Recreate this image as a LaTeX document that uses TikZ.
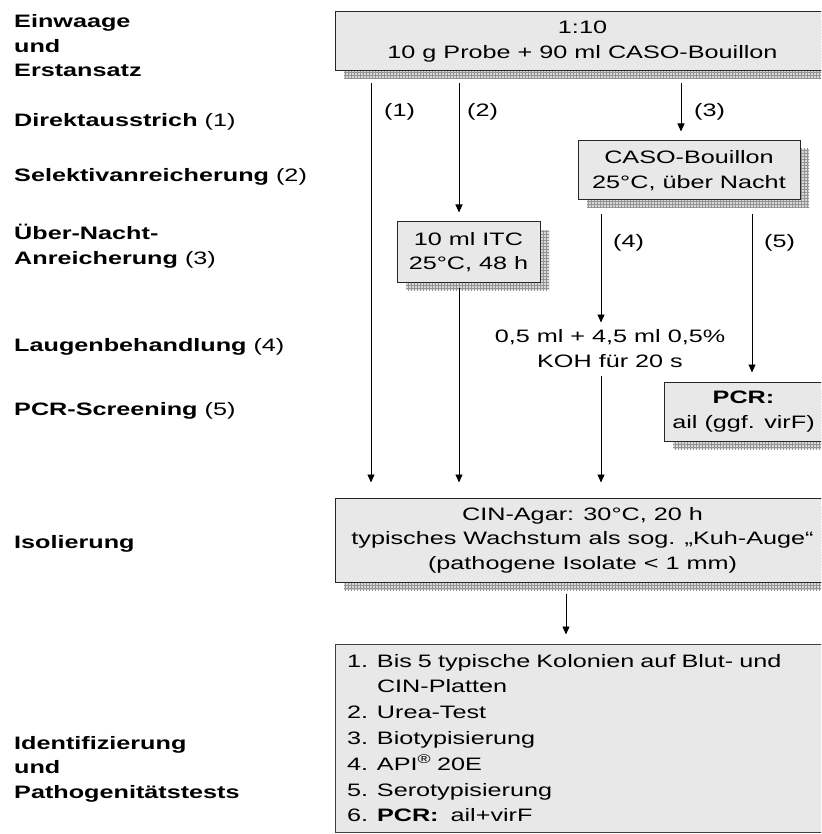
\documentclass[tikz,border=0pt]{standalone}
\usepackage{fontspec}
\setmainfont{Liberation Sans}[FakeStretch=1.40]
\usetikzlibrary{positioning,arrows.meta,shadows,patterns}
\definecolor{boxgray}{RGB}{232,232,232}
\tikzset{
  bx/.style={rectangle, draw=black!85, line width=1pt, fill=boxgray, align=center, inner sep=0pt,
    general shadow={shadow xshift=9pt, shadow yshift=-8pt, fill=gray!30},
    general shadow={shadow xshift=9pt, shadow yshift=-8pt, pattern=grid, pattern color=gray!85}},
  bxflat/.style={rectangle, draw=black!75, line width=1pt, fill=boxgray, align=left, inner xsep=12pt, inner ysep=0pt},
  lbl/.style={anchor=base west, inner sep=0pt, align=left, font=\fontsize{18}{24.5}\selectfont\bfseries},
  num/.style={anchor=base west, inner sep=0pt},
  fl/.style={->, line width=0.9pt, shorten <=12pt, shorten >=9pt},
  >={Triangle[width=7pt,length=8pt]}
}

\begin{document}
\begin{tikzpicture}[x=1pt, y=-1pt, font=\fontsize{18}{24.5}\selectfont]
	\fill[white] (0,0) rectangle (821,834);
	\useasboundingbox (0,0) rectangle (821,834);
	\clip (0,0) rectangle (821,834);
	% left column
	\node[lbl] (einw) at (14,77) {Einwaage\\und\\Erstansatz};
	\node[lbl] (direkt) at (14,127) {Direktausstrich {\mdseries (1)}};
	\node[lbl] (selekt) at (14,182) {Selektivanreicherung {\mdseries (2)}};
	\node[lbl] (uebern) at (14,264) {Über-Nacht-\\Anreicherung {\mdseries (3)}};
	\node[lbl] (lauge) at (14,351) {Laugenbehandlung {\mdseries (4)}};
	\node[lbl] (screen) at (14,415) {PCR-Screening {\mdseries (5)}};
	\node[lbl] (isol) at (14,548) {Isolierung};
	\node[lbl] (identlbl) at (14,798) {Identifizierung\\und\\Pathogenitätstests};
	% boxes
	\node[bx, minimum width=495pt, minimum height=59pt] (start) at (582.5,41.5) {1:10\\10 g Probe + 90 ml CASO-Bouillon};
	\node[bx, minimum width=222pt, minimum height=59pt] (caso) at (689,170.5) {CASO-Bouillon\\25°C, über Nacht};
	\node[bx, minimum width=143pt, minimum height=60pt] (itc) at (468.5,252) {10 ml ITC\\25°C, 48 h};
	\node[inner sep=0pt, align=center, anchor=north] (koh) at (610,329.5) {0,5 ml + 4,5 ml 0,5\%\\KOH für 20 s};
	\node[bx, minimum width=159pt, minimum height=59pt] (pcr) at (743.5,411.5) {\textbf{PCR:}\\ail (ggf. virF)};
	\node[bx, minimum width=495pt, minimum height=84pt] (cin) at (582.5,540) {CIN-Agar: 30°C, 20 h\\typisches Wachstum als sog. „Kuh-Auge“\\(pathogene Isolate < 1 mm)};
	\node[bxflat, text width=471pt, minimum height=188pt, font=\fontsize{18}{25.8}\selectfont] (ident) at (582.5,738)
	  {\makebox[30pt][l]{1.}Bis 5 typische Kolonien auf Blut- und\\
	   \hspace*{30pt}CIN-Platten\\
	   \makebox[30pt][l]{2.}Urea-Test\\
	   \makebox[30pt][l]{3.}Biotypisierung\\
	   \makebox[30pt][l]{4.}API\textsuperscript{®} 20E\\
	   \makebox[30pt][l]{5.}Serotypisierung\\
	   \makebox[30pt][l]{6.}\textbf{PCR:}\ \ ail+virF};
	% arrow columns
	\coordinate (c1) at (371,0);
	\coordinate (c2) at (459,0);
	\coordinate (c3) at (681,0);
	\coordinate (c4) at (601,0);
	\coordinate (c5) at (752,0);
	\coordinate (c6) at (566,0);
	\draw[fl, shorten >=15pt] (start.south -| c1) -- (cin.north -| c1);
	\draw[fl] (start.south -| c2) -- (itc.north -| c2);
	\draw[fl, shorten <=5pt, shorten >=15pt] (itc.south -| c2) -- (cin.north -| c2);
	\draw[fl] (start.south -| c3) -- (caso.north -| c3);
	\draw[fl, shorten <=14pt, shorten >=7pt] (caso.south -| c4) -- (koh.north -| c4);
	\draw[fl, shorten <=8pt, shorten >=15pt] (koh.south -| c4) -- (cin.north -| c4);
	\draw[fl, shorten <=14pt] (caso.south -| c5) -- (pcr.north -| c5);
	\draw[fl, shorten <=11pt] (cin.south -| c6) -- (ident.north -| c6);
	% path numbers
	\node[num] (n1) at (384,117) {(1)};
	\node[num] (n2) at (467,117) {(2)};
	\node[num] (n3) at (694,117) {(3)};
	\node[num] (n4) at (613,247) {(4)};
	\node[num] (n5) at (764,247) {(5)};
\end{tikzpicture}
\end{document}
